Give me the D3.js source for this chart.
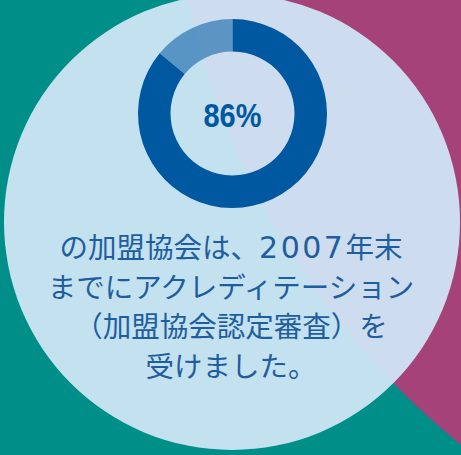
<html>
<head>
<meta charset="utf-8">
<script src="https://d3js.org/d3.v7.min.js"></script>
<style>
  body { margin: 0; background: #008e88; }
  svg { display: block; }
</style>
</head>
<body>
<div id="chart"></div>
<script>
var labels = ['accredited', 'other'];
var values = [86, 14];
var centerLabel = '86%';
// each line split so the numbers can get the wider look of the original
var captionLines = [
    ['の加盟協会は、', '2007', '年末'],
    ['までにアクレディテーション'],
    ['（加盟協会認定審査）を'],
    ['受けました。']
];

var width = 461, height = 455;
var teal = '#008e88', magenta = '#a5427a', blue = '#0058a0', textBlue = '#1e5e9f';

var svg = d3.select('#chart').append('svg')
    .attr('width', width)
    .attr('height', height);

// background
svg.append('rect')
    .attr('width', width)
    .attr('height', height)
    .attr('fill', teal);

svg.append('circle')
    .attr('cx', 953)
    .attr('cy', -163)
    .attr('r', 782)
    .attr('fill', magenta);

// big light bubble (slightly see-through)
svg.append('circle')
    .attr('cx', 232)
    .attr('cy', 222)
    .attr('r', 228)
    .attr('fill', '#cfe6f5')
    .attr('fill-opacity', 0.95);

// donut
var pie = d3.pie().sort(null).value(function(d) { return d; });
var arc = d3.arc().innerRadius(62).outerRadius(94.5);

var donut = svg.append('g')
    .attr('transform', 'translate(232.5,113.5)');

donut.selectAll('path')
    .data(pie(values))
    .enter().append('path')
    .attr('d', arc)
    .attr('fill', blue)
    .attr('fill-opacity', function(d, i) { return i == 0 ? 1 : 0.55; });

donut.append('text')
    .attr('text-anchor', 'middle')
    .attr('y', 13)
    .attr('fill', blue)
    .attr('textLength', 58)
    .attr('lengthAdjust', 'spacingAndGlyphs')
    .style('font-family', '"Liberation Sans", sans-serif')
    .style('font-weight', 'bold')
    .style('font-size', '33px')
    .text(centerLabel);

// caption
var lines = svg.append('g')
    .selectAll('text')
    .data(captionLines)
    .enter().append('text')
    .attr('x', 231)
    .attr('y', function(d, i) { return 258 + i * 39.5; })
    .attr('text-anchor', 'middle')
    .attr('fill', textBlue)
    .style('font-family', '"Noto Sans CJK JP", sans-serif')
    .style('font-size', '28.5px');

lines.selectAll('tspan')
    .data(function(d) { return d; })
    .enter().append('tspan')
    .style('font-family', function(d) { return /^\d+$/.test(d) ? '"DejaVu Sans", sans-serif' : null; })
    .style('font-size', function(d) { return /^\d+$/.test(d) ? '30px' : null; })
    .style('letter-spacing', function(d) { return /^\d+$/.test(d) ? '2.5px' : null; })
    .text(function(d) { return d; });
</script>
</body>
</html>
